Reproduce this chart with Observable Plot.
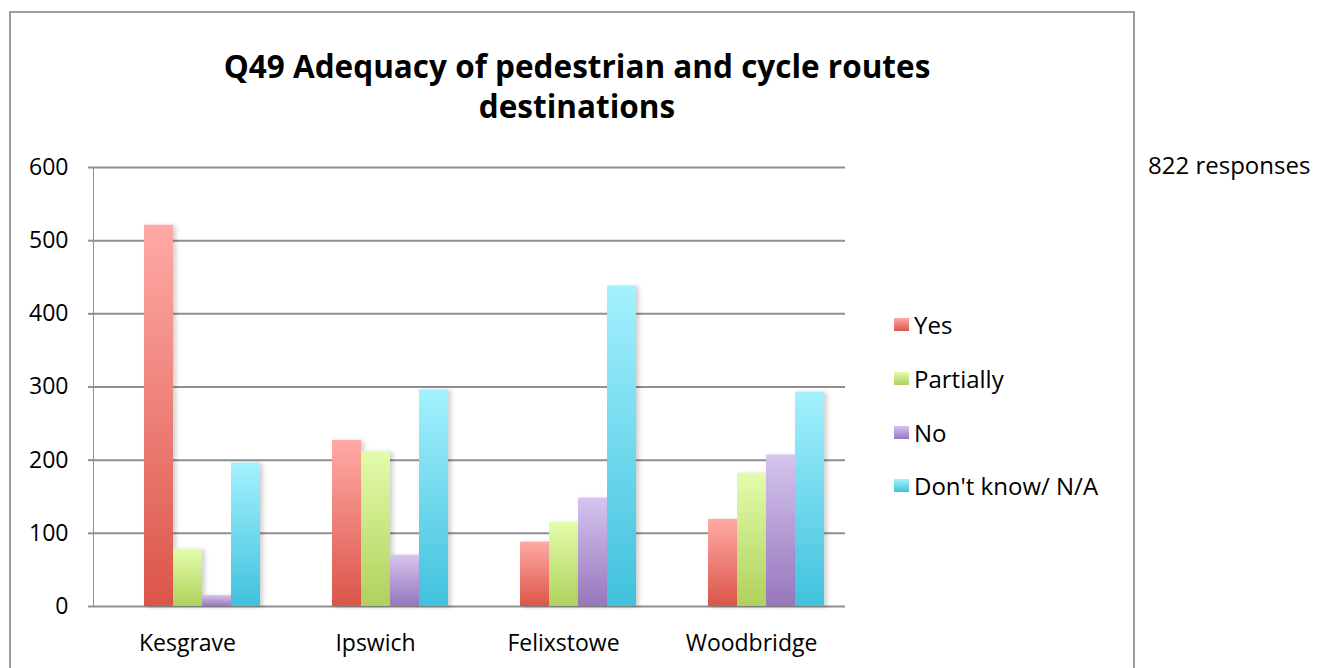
<!DOCTYPE html>
<html>
<head>
<meta charset="utf-8">
<script src="https://cdn.jsdelivr.net/npm/d3@7"></script>
<script src="https://cdn.jsdelivr.net/npm/@observablehq/plot@0.6"></script>
<style>
  html, body { margin: 0; padding: 0; background: #fff; width: 1322px; height: 668px; overflow: hidden; font-family: "Open Sans", sans-serif; color: #000; }
  #frame { position: absolute; left: 9px; top: 11px; width: 1126px; height: 720px; border: 2px solid #9c9c9c; box-sizing: border-box; }
  #title { position: absolute; left: 177px; width: 800px; top: 46px; text-align: center; font-weight: bold; font-size: 31.5px; line-height: 40px; white-space: nowrap; }
  #chart { position: absolute; left: 0; top: 140px; }
  #chart svg text { fill: #000; }
  #legend { position: absolute; left: 894px; top: 298px; font-size: 24px; }
  .entry { height: 53.7px; display: flex; align-items: center; white-space: nowrap; }
  .sw { width: 15px; height: 13px; margin-right: 5px; }
  #note { position: absolute; left: 1148px; top: 149px; font-size: 24px; line-height: 32px; white-space: nowrap; }
</style>
</head>
<body>
<div id="frame"></div>
<div id="title"></div>
<div id="chart"></div>
<div id="legend"></div>
<div id="note"></div>
<script>
// ---- data ----
const titleLines = ["Q49 Adequacy of pedestrian and cycle routes", "destinations"];
const noteText = "822 responses";
const towns = ["Kesgrave", "Ipswich", "Felixstowe", "Woodbridge"];
const seriesNames = ["Yes", "Partially", "No", "Don't know/ N/A"];
const yesValues = [521, 227, 88, 119];
const partiallyValues = [78, 212, 115, 182];
const noValues = [15, 70, 148, 207];
const dontKnowValues = [196, 296, 438, 293];
const yTicks = [0, 100, 200, 300, 400, 500, 600];

// ---- styles ----
const topColors = ["#ffaaa5", "#e4fcab", "#d5c4ef", "#a3f1fe"];
const bottomColors = ["#db5549", "#afd15c", "#9677bb", "#40c1dd"];
const barOffsets = [-28.5, 0.5, 29.5, 58.5];
const barInset = 79.5;

const seriesValues = [yesValues, partiallyValues, noValues, dontKnowValues];
const tables = seriesValues.map((vals, i) =>
  towns.map((t, j) => ({town: t, series: seriesNames[i], value: vals[j]})));

document.getElementById("title").innerHTML = titleLines.join("<br>");
document.getElementById("note").textContent = noteText;

const marks = [
  Plot.ruleY(yTicks, {stroke: "#8f8f8f", strokeWidth: 2})
];
tables.forEach((rows, i) => {
  marks.push(Plot.barY(rows, {
    x: "town", y: "value", fill: `url(#grad${i})`,
    insetLeft: barInset, insetRight: barInset, dx: barOffsets[i]
  }));
});

const chart = Plot.plot({
  width: 860,
  height: 528,
  marginLeft: 93,
  marginRight: 15,
  marginTop: 27,
  marginBottom: 62,
  style: {fontFamily: "Open Sans", fontSize: "23px", color: "#8f8f8f", background: "transparent", overflow: "visible"},
  x: {domain: towns, padding: 0, tickSize: 0, tickPadding: 28, label: null},
  y: {domain: [0, 600], ticks: yTicks, tickSize: 5, tickPadding: 20, label: null, line: true, tickFormat: d => String(d)},
  marks
});

const svg = d3.select(chart);
const defs = svg.insert("defs", ":first-child");
topColors.forEach((c, i) => {
  const g = defs.append("linearGradient").attr("id", `grad${i}`)
    .attr("x1", 0).attr("y1", 0).attr("x2", 0).attr("y2", 1);
  g.append("stop").attr("offset", "0%").attr("stop-color", c);
  g.append("stop").attr("offset", "100%").attr("stop-color", bottomColors[i]);
});
svg.selectAll("rect").filter(function() { return (this.getAttribute("fill") || this.parentNode.getAttribute("fill") || "").startsWith("url"); })
  .style("filter", "drop-shadow(3px 1px 2px rgba(0,0,0,0.18))");
svg.selectAll("g[aria-label^='y-axis'] path, g[aria-label^='y-axis'] line").attr("stroke-width", 2);

document.getElementById("chart").appendChild(chart);

const legend = d3.select("#legend");
seriesNames.forEach((name, i) => {
  const e = legend.append("div").attr("class", "entry");
  e.append("div").attr("class", "sw")
    .style("background", `linear-gradient(${topColors[i]}, ${bottomColors[i]})`);
  e.append("span").text(name);
});
</script>
</body>
</html>
